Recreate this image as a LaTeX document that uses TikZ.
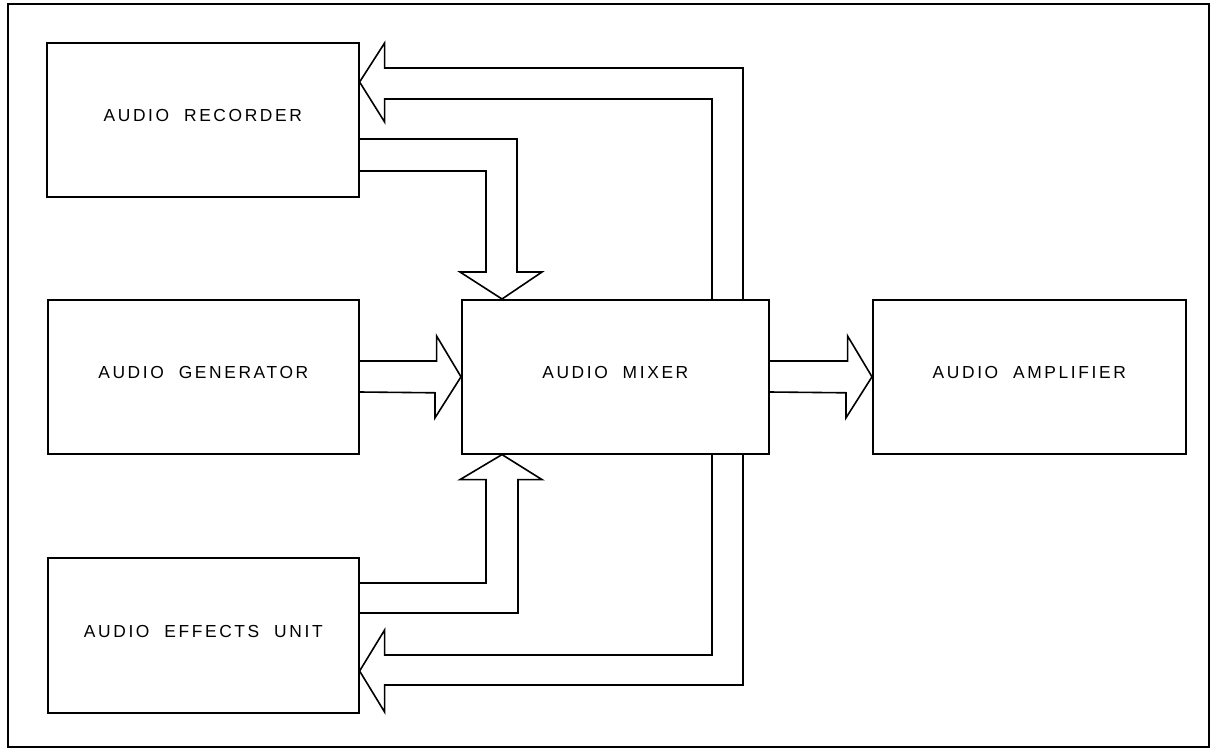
\documentclass[tikz,border=0pt]{standalone}
\usepackage{fontspec}
\setmainfont{Liberation Sans}[LetterSpace=15]
\usetikzlibrary{calc}
\begin{document}
\begin{tikzpicture}[x=0.5pt,y=-0.5pt,line join=miter,
  box/.style={draw,line width=0.8pt,minimum width=156pt,minimum height=77pt,
    anchor=north west,inner sep=0pt,text depth=4pt,
    font=\fontsize{8.7}{10}\selectfont},
  barrow/.style={draw,line width=0.8pt}]
\useasboundingbox (0,0) rectangle (1216,749);
\draw[line width=1.4pt] (8,4) rectangle (1209,747);
% blocks
\node[box] (rec) at (46,42) {AUDIO\ \ RECORDER};
\node[box,minimum width=155.5pt] (gen) at (47,299) {AUDIO\ \ GENERATOR};
\node[box,minimum width=155.5pt,minimum height=77.5pt] (fx) at (47,557) {AUDIO\ \ EFFECTS\ \ UNIT};
\node[box,minimum width=153.5pt] (mix) at (461,299) {AUDIO\ \ MIXER};
\node[box,minimum width=156.5pt] (amp) at (872,299) {AUDIO\ \ AMPLIFIER};
% mixer -> recorder
\draw[barrow] ($(mix.north west)+(251,0)$) |- ($(rec.north east)+(25,57)$)
  -- ++(0,23) -- ($(rec.north east)+(0,40)$) -- ++(25,-39) -- ++(0,25)
  -| ($(mix.north west)+(282,0)$);
% recorder -> mixer
\draw[barrow] ($(rec.north east)+(0,97)$) -| ($(mix.north west)+(56,-27)$)
  -- ++(25,0) -- ($(mix.north west)+(41,0)$) -- ++(-42,-27) -- ++(26,0)
  |- ($(rec.north east)+(0,129)$);
% generator -> mixer
\draw[barrow] ($(gen.north east)+(0,62)$) -- ++(77,0) -- ++(0,-25)
  -- (mix.west) -- ++(-26,41) -- ++(0,-25) -- ($(gen.north east)+(0,93)$);
% mixer -> amplifier
\draw[barrow] ($(mix.north east)+(0,62)$) -- ++(78,0) -- ++(0,-25)
  -- (amp.west) -- ++(-26,41) -- ++(0,-25) -- ($(mix.north east)+(0,93)$);
% effects -> mixer
\draw[barrow] ($(fx.north east)+(0,26)$) -| ($(mix.south west)+(25,25)$)
  -- ++(-26,0) -- ($(mix.south west)+(41,0)$) -- ++(40,25) -- ++(-24,0)
  |- ($(fx.north east)+(0,56)$);
% mixer -> effects
\draw[barrow] ($(mix.south west)+(251,0)$) |- ($(fx.north east)+(25,98)$)
  -- ++(0,-25) -- ($(fx.north east)+(0,114)$) -- ++(25,41) -- ++(0,-27)
  -| ($(mix.south west)+(282,0)$);
\end{tikzpicture}
\end{document}
